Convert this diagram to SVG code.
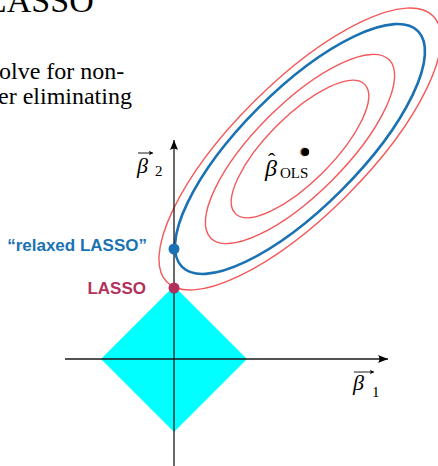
<svg xmlns="http://www.w3.org/2000/svg" width="438" height="466" viewBox="0 0 438 466">
  <style>
    .serif { font-family: "Liberation Serif", "Times New Roman", serif; fill: #000; }
    .lbl { font-family: "Liberation Sans", Arial, sans-serif; font-weight: bold; font-size: 17px; }
    .red { fill: none; stroke: #f4585a; stroke-width: 1.4; }
    .blue { fill: none; stroke: #1a72b4; stroke-width: 2.6; }
    .axis { stroke: #1a1a1a; stroke-width: 1.3; fill: none; }
    .vec { stroke: #000; stroke-width: 0.9; fill: none; }
  </style>
  <defs>
    <marker id="ah" markerUnits="userSpaceOnUse" markerWidth="14" markerHeight="10" refX="10" refY="5" orient="auto">
      <path d="M10,5 L0,1 Q3,5 0,9 Z" fill="#000"/>
    </marker>
    <marker id="vh" markerUnits="userSpaceOnUse" markerWidth="6" markerHeight="6" refX="4" refY="3" orient="auto">
      <path d="M4,3 L0,0.8 L0.8,3 L0,5.2 Z" fill="#000"/>
    </marker>
  </defs>

  <g id="slide-text">
    <text class="serif" x="-14" y="12" font-size="34">LASSO</text>
    <text class="serif" x="-1" y="79" font-size="24">olve for non-</text>
    <text class="serif" x="-2" y="104" font-size="24">er eliminating</text>
  </g>

  <g id="constraint-region">
    <polygon points="101,359 174,286 247,359 174,432" fill="#00ffff"/>
  </g>

  <g id="contours">
    <g transform="translate(300,149) rotate(-45)">
      <ellipse class="red" cx="0" cy="0" rx="91.4" ry="32.8"/>
      <ellipse class="red" cx="0" cy="0" rx="126.1" ry="44.8"/>
      <ellipse class="blue" cx="0" cy="0" rx="166.8" ry="58.5"/>
      <ellipse class="red" cx="0" cy="0" rx="188.2" ry="66"/>
    </g>
  </g>

  <g id="connectors">
    <line class="axis" x1="174" y1="466" x2="174" y2="140" marker-end="url(#ah)"/>
    <line class="axis" x1="65" y1="359" x2="388" y2="359" marker-end="url(#ah)"/>
  </g>

  <g id="beta2-label">
    <line class="vec" x1="138" y1="153" x2="153" y2="153" marker-end="url(#vh)"/>
    <text class="serif" x="137" y="173" font-size="22" font-style="italic">β</text>
    <text class="serif" x="155" y="176" font-size="15">2</text>
  </g>

  <g id="beta1-label">
    <line class="vec" x1="354" y1="372" x2="374" y2="372" marker-end="url(#vh)"/>
    <text class="serif" x="353" y="390" font-size="22" font-style="italic">β</text>
    <text class="serif" x="372" y="397" font-size="15">1</text>
  </g>

  <g id="ols">
    <circle cx="304" cy="152" r="4.4" fill="#e0a060"/>
    <circle cx="305.2" cy="152" r="4" fill="#000"/>
    <text class="serif" x="265" y="176" font-size="24" font-style="italic">β</text>
    <text class="serif" x="268" y="168" font-size="22">ˆ</text>
    <text class="serif" x="280" y="178" font-size="15">OLS</text>
  </g>

  <g id="relaxed-lasso">
    <circle cx="174" cy="249" r="5.5" fill="#1a72b4"/>
    <text class="lbl" x="147" y="251" text-anchor="end" fill="#1a72b4">“relaxed LASSO”</text>
  </g>

  <g id="lasso">
    <circle cx="174" cy="288" r="5.5" fill="#b3305b"/>
    <text class="lbl" x="146" y="294" text-anchor="end" fill="#b3305b">LASSO</text>
  </g>
</svg>
